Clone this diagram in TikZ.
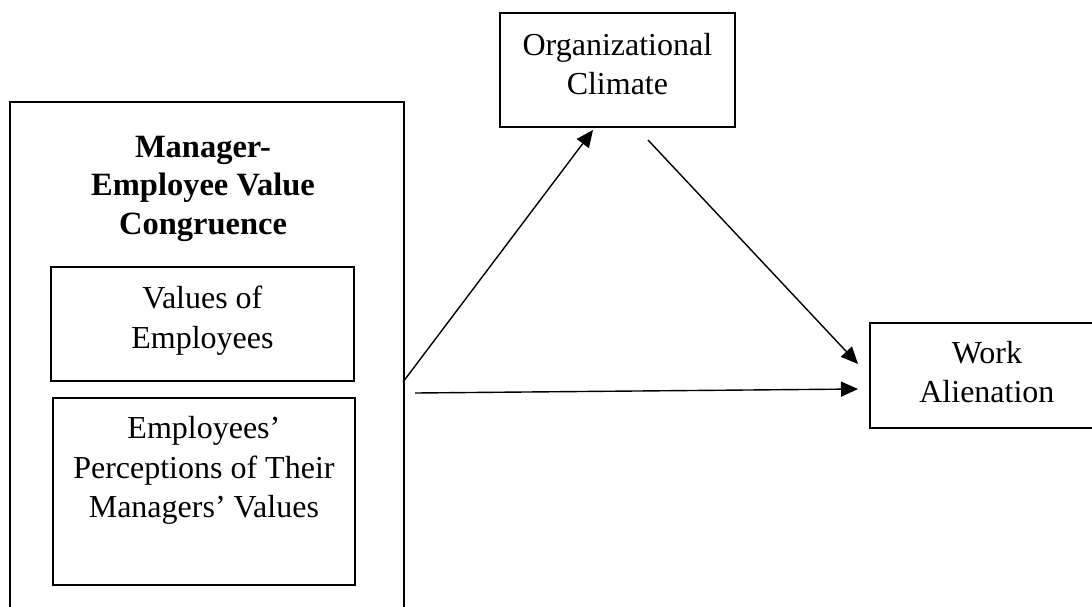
\documentclass[tikz,border=0pt]{standalone}
\usepackage{fontspec}
\setmainfont{Liberation Serif}
\usetikzlibrary{positioning,arrows.meta}
\tikzset{
    construct/.style={
        rectangle, draw, line width=1.8pt,
        inner sep=0pt, anchor=north west,
        align=center, font=\fontsize{32}{39.5}\selectfont
    },
    heading/.style={
        inner sep=0pt, anchor=north,
        align=center, font=\fontsize{32.5}{38.5}\selectfont\bfseries
    },
    link/.style={
        ->, line width=1.4pt
    }
}

\begin{document}
\begin{tikzpicture}[x=1pt, y=-1pt, >={Triangle[length=17pt,width=15pt]}]

        \path[use as bounding box, clip] (0,0) rectangle (1092,606);

        % Value congruence (runs off the page at the bottom)
        \node[construct, minimum width=394pt, minimum height=540pt, line width=2pt] (mevc) at (9,101) {};
        \node[heading] (mevctitle) at (203,136) {Manager-\\Employee Value\\Congruence};
        \node[construct, minimum width=303pt, minimum height=114pt, text depth=13.5pt] (values) at (50,266) {Values of\\Employees};
        \node[construct, minimum width=302pt, minimum height=187pt, text depth=48.5pt] (percept) at (52,397) {Employees’\\Perceptions of Their\\Managers’ Values};

        % Mediator and outcome
        \node[construct, minimum width=235pt, minimum height=114pt, text depth=12.5pt] (climate) at (499,12) {Organizational\\Climate};
        \node[construct, minimum width=234pt, minimum height=105pt, text depth=7.5pt] (alien) at (869,322) {Work\\Alienation};

        % Free ends
        \coordinate (upstart) at (403,382);
        \coordinate (uptip) at (593,130);
        \coordinate (downstart) at (648,140);
        \coordinate (downtip) at (858,364);
        \coordinate (directstart) at (415,393);
        \coordinate (directtip) at (858,389);

        % Arrows
        \draw[link] (upstart) -- (uptip);
        \draw[link] (downstart) -- (downtip);
        \draw[link] (directstart) -- (directtip);

    \end{tikzpicture}
\end{document}
